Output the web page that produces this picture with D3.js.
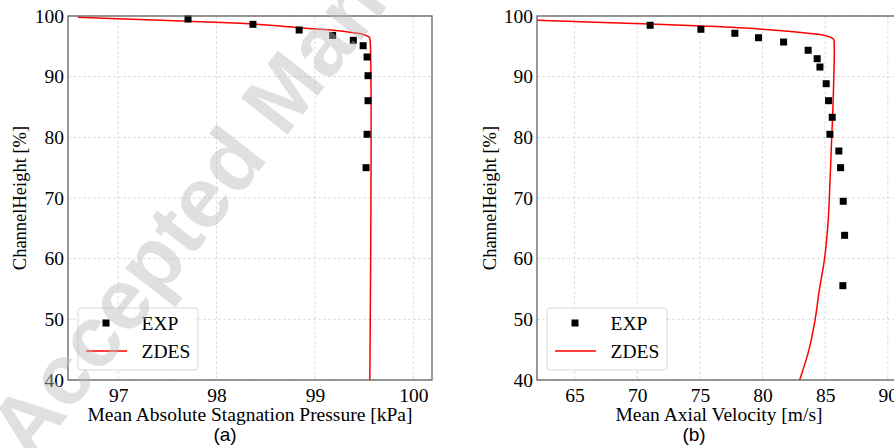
<!DOCTYPE html>
<html>
<head>
<meta charset="utf-8">
<script src="https://cdn.jsdelivr.net/npm/d3@7"></script>
<style>
  body { margin: 0; background: #fff; }
  svg { display: block; }
</style>
</head>
<body>
<svg id="chart" width="894" height="448"></svg>
<script>
// panel (a): stagnation pressure
const pressureExpX = [97.71, 98.37, 98.84, 99.18, 99.39, 99.49, 99.53, 99.54, 99.54, 99.53, 99.52];
const pressureExpH = [99.5, 98.63, 97.69, 96.8, 95.99, 95.1, 93.24, 90.16, 86.04, 80.5, 75.0];
const pressureZdesX = [96.59, 97.0, 97.71, 98.37, 98.84, 99.17, 99.39, 99.5, 99.553, 99.56, 99.558];
const pressureZdesH = [99.79, 99.54, 99.12, 98.68, 98.07, 97.69, 97.25, 96.92, 96.49, 96.04, 40];
const pressureTicks = [97, 98, 99, 100];

// panel (b): axial velocity
const velocityExpX = [71.03, 75.08, 77.79, 79.68, 81.68, 83.64, 84.36, 84.58, 85.08, 85.27, 85.56, 85.38, 86.09, 86.23, 86.44, 86.55, 86.41];
const velocityExpH = [98.47, 97.81, 97.15, 96.42, 95.71, 94.35, 92.96, 91.59, 88.84, 86.04, 83.3, 80.5, 77.75, 75.0, 69.46, 63.85, 55.55];
const velocityZdesX = [61.5, 71.03, 75.08, 79.68, 83.64, 85.13, 85.67, 85.72, 85.59, 85.53, 85.32, 85.22, 84.95, 84.52, 84.2, 83.68, 82.96];
const velocityZdesH = [99.33, 98.68, 98.35, 97.86, 97.15, 96.7, 96.16, 95.5, 83.3, 80.5, 69.46, 65.7, 60, 54.7, 50, 44.8, 40];
const velocityTicks = [65, 70, 75, 80, 85, 90];

const heightTicks = [40, 50, 60, 70, 80, 90, 100];

const serif = "'Liberation Serif', 'Times New Roman', serif";
const sans = "'Liberation Sans', Arial, sans-serif";

const svg = d3.select("#chart");

const panels = [
  {
    id: "a", left: 68, xDomain: [96.49, 100.19], ticks: pressureTicks,
    expX: pressureExpX, expH: pressureExpH, zdesX: pressureZdesX, zdesH: pressureZdesH,
    xLabel: "Mean Absolute Stagnation Pressure [kPa]", labelX: 250, caption: "(a)", captionX: 225, yLabelX: 20,
  },
  {
    id: "b", left: 537, xDomain: [62.0, 91.05], ticks: velocityTicks,
    expX: velocityExpX, expH: velocityExpH, zdesX: velocityZdesX, zdesH: velocityZdesH,
    xLabel: "Mean Axial Velocity [m/s]", labelX: 719, caption: "(b)", captionX: 694, yLabelX: 490,
  },
];

const plotTop = 16, plotBottom = 380, plotWidth = 364;

panels.forEach((p) => {
  const x = d3.scaleLinear().domain(p.xDomain).range([p.left, p.left + plotWidth]);
  const y = d3.scaleLinear().domain([40, 100]).range([plotBottom, plotTop]);
  const g = svg.append("g");

  g.append("clipPath").attr("id", "clip-" + p.id)
    .append("rect").attr("x", p.left).attr("y", plotTop)
    .attr("width", plotWidth).attr("height", plotBottom - plotTop);

  // grid
  g.append("g").selectAll("line").data(p.ticks).join("line")
    .attr("x1", (d) => x(d)).attr("x2", (d) => x(d)).attr("y1", plotTop).attr("y2", plotBottom)
    .attr("stroke", "#d4d4d4").attr("stroke-width", 0.8).attr("stroke-dasharray", "3,2");
  g.append("g").selectAll("line").data(heightTicks).join("line")
    .attr("x1", p.left).attr("x2", p.left + plotWidth).attr("y1", (d) => y(d)).attr("y2", (d) => y(d))
    .attr("stroke", "#d4d4d4").attr("stroke-width", 0.8).attr("stroke-dasharray", "3,2");

  // axes (labels only, no tick marks)
  const xAxis = g.append("g").attr("transform", `translate(0,${plotBottom})`)
    .call(d3.axisBottom(x).tickValues(p.ticks).tickSize(0).tickPadding(8).tickFormat(d3.format("d")));
  const yAxis = g.append("g").attr("transform", `translate(${p.left},0)`)
    .call(d3.axisLeft(y).tickValues(heightTicks).tickSize(0).tickPadding(4).tickFormat(d3.format("d")));
  [xAxis, yAxis].forEach((a) => {
    a.select(".domain").remove();
    a.selectAll("text").attr("font-family", serif).attr("font-size", 19.5).attr("fill", "#000");
  });

  // ZDES line
  const line = d3.line().x((d) => x(d[0])).y((d) => y(d[1])).curve(d3.curveCatmullRom.alpha(0.5));
  g.append("path")
    .datum(d3.zip(p.zdesX, p.zdesH))
    .attr("clip-path", `url(#clip-${p.id})`)
    .attr("d", line).attr("fill", "none").attr("stroke", "#ff0000").attr("stroke-width", 1.5);

  // EXP markers
  g.append("g").selectAll("rect").data(d3.zip(p.expX, p.expH)).join("rect")
    .attr("x", (d) => x(d[0]) - 3.5).attr("y", (d) => y(d[1]) - 3.5)
    .attr("width", 7).attr("height", 7).attr("fill", "#000");

  // frame
  g.append("rect").attr("x", p.left).attr("y", plotTop)
    .attr("width", plotWidth).attr("height", plotBottom - plotTop)
    .attr("fill", "none").attr("stroke", "#555").attr("stroke-width", 1.2);

  // legend
  const lx = p.left + 10, ly = 308;
  const leg = g.append("g").attr("transform", `translate(${lx},${ly})`);
  leg.append("rect").attr("width", 120).attr("height", 62).attr("rx", 3)
    .attr("fill", "#fff").attr("fill-opacity", 0.8).attr("stroke", "#d8d8d8").attr("stroke-width", 1);
  leg.append("rect").attr("x", 24.5).attr("y", 11.5).attr("width", 7).attr("height", 7).attr("fill", "#000");
  leg.append("line").attr("x1", 8).attr("x2", 49).attr("y1", 43).attr("y2", 43)
    .attr("stroke", "#ff0000").attr("stroke-width", 1.5);
  leg.selectAll("text").data(["EXP", "ZDES"]).join("text")
    .attr("x", 63.5).attr("y", (d, i) => 22 + i * 28)
    .attr("font-family", serif).attr("font-size", 19.5).attr("fill", "#000")
    .text((d) => d);

  // axis titles
  g.append("text").attr("x", p.labelX).attr("y", 421)
    .attr("text-anchor", "middle").attr("font-family", serif).attr("font-size", 19.5)
    .text(p.xLabel);
  g.append("text").attr("transform", `translate(${p.yLabelX + 6},${(plotTop + plotBottom) / 2}) rotate(-90)`)
    .attr("text-anchor", "middle").attr("font-family", serif).attr("font-size", 18.5)
    .text("ChannelHeight [%]");
  g.append("text").attr("x", p.captionX).attr("y", 441)
    .attr("text-anchor", "middle").attr("font-family", sans).attr("font-size", 19)
    .text(p.caption);
});

// watermark
svg.append("text")
  .attr("transform", "translate(31,463) rotate(-52)")
  .attr("font-family", sans).attr("font-weight", "bold").attr("font-size", 86)
  .attr("fill", "#bbb").attr("fill-opacity", 0.45)
  .text("Accepted Manuscript");
</script>
</body>
</html>
